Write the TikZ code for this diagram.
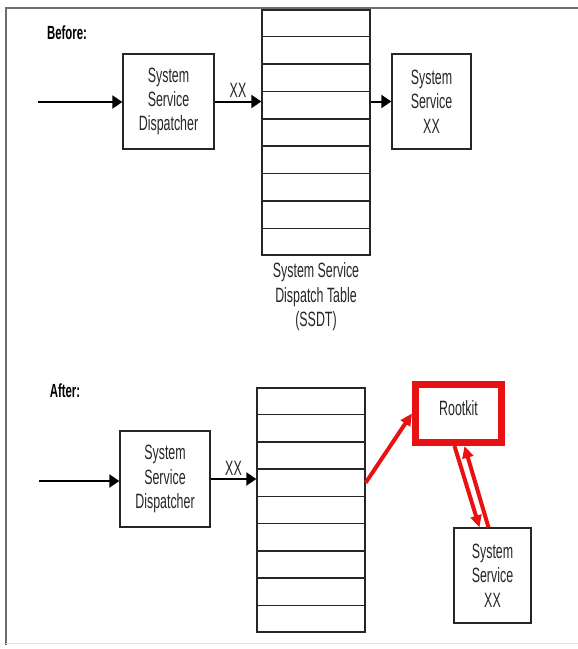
\documentclass[tikz,border=0pt]{standalone}
\usepackage{fontspec}
\newfontfamily\diagfont[FakeStretch=0.6]{Liberation Sans}
\usepackage{tikz}
\usetikzlibrary{arrows.meta,calc}
\definecolor{hookred}{RGB}{232,18,18}
\definecolor{framegray}{RGB}{110,110,110}

\begin{document}
\begin{tikzpicture}[x=1pt,y=-1pt,
  box/.style={draw=black!85,line width=1.3pt,align=center,inner sep=1pt},
  tbl/.style={draw=black!85,line width=1.3pt,minimum width=108pt,inner sep=0pt},
  rowline/.style={black!85,line width=1.5pt},
  call/.style={line width=2pt,-{Triangle[length=10pt,width=13pt]}},
  hook/.style={hookred,line width=4pt,-{Triangle[length=12pt,width=11pt]}},
  every node/.style={font=\diagfont\fontsize{20.7}{24.3}\selectfont,text=black!85},
  head/.style={font=\diagfont\bfseries\fontsize{19}{22}\selectfont,text=black}]
\useasboundingbox (0,0) rectangle (578,649);
% frame
\draw[framegray,line width=1.5pt] (578,8) -- (6,8) -- (6,645);
\draw[black!10,line width=1pt] (6,643) -- (578,643);
% before
\node[head] (before) at (67,33) {Before:};
\node[box,minimum width=91pt,minimum height=95pt] (dispA) at (168.5,101.5) {System\\Service\\Dispatcher};
\node[tbl,minimum height=245pt] (tblA) at (316,132.5) {};
\foreach \i in {1,...,8}
  \draw[rowline] ($(tblA.north west)!\i/9!(tblA.south west)$) -- ($(tblA.north east)!\i/9!(tblA.south east)$);
\node[box,minimum width=79pt,minimum height=95pt] (svcA) at (431.5,101.5) {System\\Service\\XX};
\node[align=center,inner sep=0pt,anchor=north] (ssdt) at ($(tblA.south)+(0,7)$) {System Service\\Dispatch Table\\(SSDT)};
\coordinate (inA) at (38,102);
\draw[call] (inA) -- (dispA.west |- inA);
\draw[call] (dispA.east) -- (dispA.east -| tblA.west) node[midway,above,inner sep=3pt] {XX};
\draw[call] (tblA.east |- svcA.west) -- (svcA.west);
% after
\node[head] (after) at (65,391) {After:};
\node[box,minimum width=90pt,minimum height=96pt] (dispB) at (165,479) {System\\Service\\Dispatcher};
\node[tbl,minimum height=244pt] (tblB) at (311,510) {};
\foreach \i in {1,...,8}
  \draw[rowline] ($(tblB.north west)!\i/9!(tblB.south west)$) -- ($(tblB.north east)!\i/9!(tblB.south east)$);
\node[draw=hookred,line width=7pt,minimum width=86pt,minimum height=58pt,text depth=11pt] (rtk) at (458.5,413.5) {Rootkit};
\node[box,minimum width=77pt,minimum height=95pt] (svcB) at (492.5,575.5) {System\\Service\\XX};
\coordinate (inB) at (39,481);
\draw[call] (inB) -- (dispB.west |- inB);
\draw[call] (dispB.east) -- (dispB.east -| tblB.west) node[midway,above,inner sep=3pt] {XX};
% hooked entry
\draw[hook] ($(tblB.north east)!3.5/9!(tblB.south east)$) -- (rtk.west);
\draw[hook] ($(rtk.south)+(-4,0)$) -- ($(svcB.north)+(-13,0)$);
\draw[hook] ($(svcB.north)+(-4,0)$) -- ($(rtk.south)+(6,0)$);
\end{tikzpicture}
\end{document}
